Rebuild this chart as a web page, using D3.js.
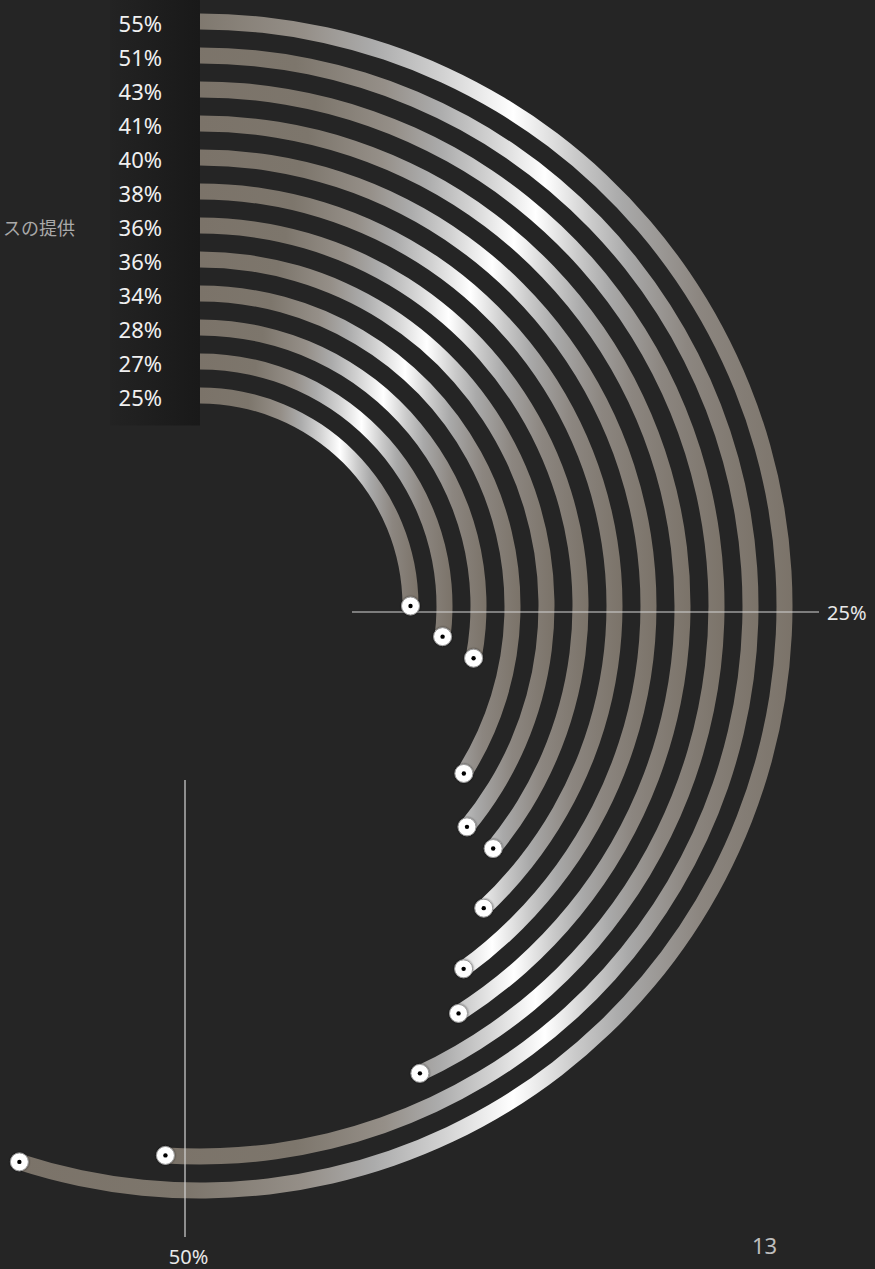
<!DOCTYPE html>
<html><head><meta charset="utf-8">
<script src="https://cdn.jsdelivr.net/npm/d3@7"></script>
<style>html,body{margin:0;padding:0;background:#252525;overflow:hidden}</style>
</head><body>
<svg id="chart" width="875" height="1269"></svg>
<script>
// ---- data ----
const categories = ["", "", "", "", "", "", "スの提供", "", "", "", "", ""];
const values = [55, 51, 43, 41, 40, 38, 36, 36, 34, 28, 27, 25];
const tickValues = [25, 50];
const tickLabels = ["25%", "50%"];
const pageNumber = "13";

// ---- layout ----
const W = 875, H = 1269, cx = 200, cy = 606, bw = 16;
const svg = d3.select("#chart");
svg.append("rect").attr("width", W).attr("height", H).attr("fill", "#252525");

const defs = svg.append("defs");
const metal = defs.append("linearGradient").attr("id", "metal")
  .attr("x1", 0).attr("x2", 1).attr("y1", 0).attr("y2", 0);
[[0, "#7b7369"], [0.22, "#7d766c"], [0.37, "#958f88"], [0.46, "#ababab"],
 [0.55, "#d2d2d2"], [0.64, "#ffffff"], [0.72, "#cacaca"], [0.78, "#a9a9a9"],
 [0.88, "#8c8680"], [1, "#7b7369"]].forEach(([o, c]) =>
  metal.append("stop").attr("offset", o).attr("stop-color", c));
const panel = defs.append("linearGradient").attr("id", "panel")
  .attr("x1", 0).attr("x2", 1).attr("y1", 0).attr("y2", 0);
panel.append("stop").attr("offset", 0).attr("stop-color", "#232323");
panel.append("stop").attr("offset", 1).attr("stop-color", "#191919");
const shadow = defs.append("filter").attr("id", "dotshadow")
  .attr("x", "-50%").attr("y", "-50%").attr("width", "200%").attr("height", "200%");
shadow.append("feDropShadow").attr("dx", 0).attr("dy", 0).attr("stdDeviation", 0.8)
  .attr("flood-color", "#000").attr("flood-opacity", 0.6);

const angle = d3.scaleLinear().domain([0, 100]).range([0, 2 * Math.PI]);
const radius = d3.scalePoint().domain(d3.range(values.length)).range([584.5, 210.5]);

// label panel
svg.append("rect").attr("x", 110).attr("y", 0).attr("width", cx - 110)
  .attr("height", cy - radius(values.length - 1) + 30).attr("fill", "url(#panel)");

const g = svg.append("g").attr("transform", `translate(${cx},${cy})`);
const arc = d3.arc();

g.selectAll("path.bar").data(values).join("path").attr("class", "bar")
  .attr("d", (v, i) => arc({innerRadius: radius(i) - bw / 2, outerRadius: radius(i) + bw / 2,
    startAngle: 0, endAngle: angle(v)}))
  .attr("fill", "url(#metal)");

// value labels
g.selectAll("text.val").data(values).join("text").attr("class", "val")
  .attr("x", -38).attr("y", (v, i) => -radius(i) + 1.5)
  .attr("text-anchor", "end").attr("dominant-baseline", "central")
  .attr("font-family", "'Noto Sans', sans-serif").attr("font-size", 22)
  .attr("fill", "#f0f0f0").text(v => v + "%");

// category labels (only the visible part)
g.selectAll("text.cat").data(categories).join("text").attr("class", "cat")
  .attr("x", 75 - cx).attr("y", (c, i) => -radius(i) + 1)
  .attr("text-anchor", "end").attr("dominant-baseline", "central")
  .attr("font-family", "'Noto Sans CJK JP', sans-serif").attr("font-size", 18)
  .attr("fill", "#a9a9a9").text(c => c);

// ticks
const tickR0 = [152, 174], tickR1 = [619, 631], tickOff = [6, 15];
const tickLabR = [627, 650], tickLabOff = [6, 11.5], tickAnchor = ["start", "middle"];
tickValues.forEach((t, k) => {
  const a = angle(t), dx = Math.sin(a), dy = -Math.cos(a), px = Math.cos(a), py = Math.sin(a);
  g.append("line")
    .attr("x1", dx * tickR0[k] + px * tickOff[k]).attr("y1", dy * tickR0[k] + py * tickOff[k])
    .attr("x2", dx * tickR1[k] + px * tickOff[k]).attr("y2", dy * tickR1[k] + py * tickOff[k])
    .attr("stroke", "#d6d6d6").attr("stroke-width", 1.2);
  g.append("text")
    .attr("x", dx * tickLabR[k] + px * tickLabOff[k]).attr("y", dy * tickLabR[k] + py * tickLabOff[k])
    .attr("text-anchor", tickAnchor[k]).attr("dominant-baseline", "central")
    .attr("font-family", "'Noto Sans', sans-serif").attr("font-size", 20)
    .attr("fill", "#e8e8e8").text(tickLabels[k]);
});

// end dots
const ends = g.selectAll("g.end").data(values).join("g").attr("class", "end")
  .attr("transform", (v, i) => `translate(${radius(i) * Math.sin(angle(v))},${-radius(i) * Math.cos(angle(v))})`);
ends.append("circle").attr("r", 9).attr("fill", "#fff").attr("stroke", "#9a9a9a")
  .attr("stroke-width", 1).attr("filter", "url(#dotshadow)");
ends.append("circle").attr("r", 2.2).attr("fill", "#000");

// page number
svg.append("text").attr("x", 764.5).attr("y", 1245).attr("text-anchor", "middle")
  .attr("dominant-baseline", "central").attr("font-family", "'Noto Sans', sans-serif")
  .attr("font-size", 22).attr("fill", "#bdbdbd").text(pageNumber);
</script>
</body></html>
